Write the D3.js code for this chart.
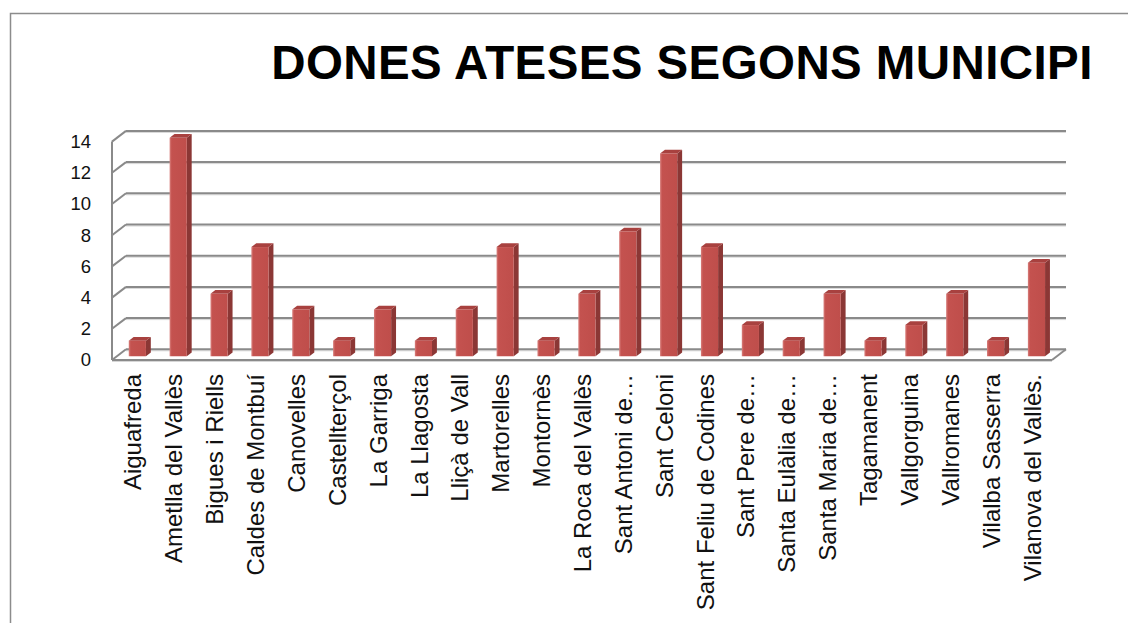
<!DOCTYPE html>
<html>
<head>
<meta charset="utf-8">
<script src="https://cdn.jsdelivr.net/npm/d3@7"></script>
<style>
  body { margin: 0; background: #fff; }
  svg { display: block; }
</style>
</head>
<body>
<div id="chart"></div>
<script>
// data
var municipis = ["Aiguafreda", "Ametlla del Vallès", "Bigues i Riells", "Caldes de Montbuí",
  "Canovelles", "Castellterçol", "La Garriga", "La Llagosta", "Lliçà de Vall", "Martorelles",
  "Montornès", "La Roca del Vallès", "Sant Antoni de…", "Sant Celoni", "Sant Feliu de Codines",
  "Sant Pere de…", "Santa Eulàlia de…", "Santa Maria de…", "Tagamanent", "Vallgorguina",
  "Vallromanes", "Vilalba Sasserra", "Vilanova del Vallès."];
var dones = [1, 14, 4, 7, 3, 1, 3, 1, 3, 7, 1, 4, 8, 13, 7, 2, 1, 4, 1, 2, 4, 1, 6];
var yTicks = [0, 2, 4, 6, 8, 10, 12, 14];
var titol = "DONES ATESES SEGONS MUNICIPI";

var W = 1128, H = 623;
// front plane of the 3d box, and the depth vector to the back wall
var front = {left: 112, right: 1052, bottom: 360, top: 141.6};
var DX = 14, DY = -10.7;
var tFront = 0.35, tBack = 0.7;

var x = d3.scaleBand()
  .domain(municipis)
  .range([front.left, front.right]);

var y = d3.scaleLinear()
  .domain([0, 14])
  .range([front.bottom, front.top]);

var svg = d3.select("#chart").append("svg")
  .attr("width", W)
  .attr("height", H);

var defs = svg.append("defs");
var grad = defs.append("linearGradient").attr("id", "barFront")
  .attr("x1", "0%").attr("x2", "100%").attr("y1", "0%").attr("y2", "0%");
grad.append("stop").attr("offset", "0%").attr("stop-color", "#d9817e");
grad.append("stop").attr("offset", "12%").attr("stop-color", "#c4524f");
grad.append("stop").attr("offset", "100%").attr("stop-color", "#bf4e4b");

// chart border
svg.append("rect")
  .attr("x", 10.5).attr("y", 13.5)
  .attr("width", W + 50).attr("height", H + 50)
  .attr("fill", "none")
  .attr("stroke", "#8c8c8c")
  .attr("stroke-width", 1.5);

// title
svg.append("text")
  .attr("x", 682)
  .attr("y", 78.5)
  .attr("text-anchor", "middle")
  .style("font-family", "'Liberation Sans', Arial, sans-serif")
  .style("font-weight", "bold")
  .style("font-size", "47.5px")
  .style("letter-spacing", "0.4px")
  .attr("fill", "#000")
  .text(titol);

var grid = svg.append("g");
var gridColor = "#8a8a8a";

function line(g, x1, y1, x2, y2, col, w) {
  g.append("line")
    .attr("x1", x1).attr("y1", y1)
    .attr("x2", x2).attr("y2", y2)
    .attr("stroke", col)
    .attr("stroke-width", w);
}

yTicks.forEach(function(v) {
  var yf = y(v), yb = y(v) + DY;
  // soft shadow under each line
  line(grid, front.left + DX, yb + 1.5, front.right + DX, yb + 1.5, "#d6d6d6", 1);
  line(grid, front.left + DX, yb, front.right + DX, yb, gridColor, 2);
  line(grid, front.left, yf, front.left + DX, yb, gridColor, 2);
});
// left wall front edge and floor
line(grid, front.left, y(14), front.left, front.bottom, gridColor, 2);
line(grid, front.left, front.bottom + 1.5, front.right, front.bottom + 1.5, "#d6d6d6", 1);
line(grid, front.left, front.bottom, front.right, front.bottom, gridColor, 2);
line(grid, front.right, front.bottom, front.right + DX, front.bottom + DY, gridColor, 2);

// y tick labels
svg.append("g").selectAll("text")
  .data(yTicks)
  .join("text")
  .attr("x", 91)
  .attr("y", function(d) { return y(d); })
  .attr("dy", "0.35em")
  .attr("text-anchor", "end")
  .style("font-family", "'Liberation Sans', Arial, sans-serif")
  .style("font-size", "18.5px")
  .attr("fill", "#111")
  .text(function(d) { return d; });

// bars
var bw = x.bandwidth() * 0.42;
var sdx = (tBack - tFront) * DX, sdy = (tBack - tFront) * DY;
var bars = svg.append("g");
municipis.forEach(function(m, i) {
  var cx = x(m) + x.bandwidth() / 2 + tFront * DX;
  var x0 = cx - bw / 2, x1 = cx + bw / 2;
  var yb = y(0) + tFront * DY, yt = y(dones[i]) + tFront * DY;
  // side
  bars.append("path")
    .attr("d", "M" + x1 + "," + yb + " L" + (x1 + sdx) + "," + (yb + sdy) +
      " L" + (x1 + sdx) + "," + (yt + sdy) + " L" + x1 + "," + yt + "Z")
    .attr("fill", "#8b3735");
  // top
  bars.append("path")
    .attr("d", "M" + x0 + "," + yt + " L" + x1 + "," + yt +
      " L" + (x1 + sdx) + "," + (yt + sdy) + " L" + (x0 + sdx) + "," + (yt + sdy) + "Z")
    .attr("fill", "#a8413f");
  // front
  bars.append("rect")
    .attr("x", x0).attr("y", yt)
    .attr("width", bw).attr("height", yb - yt)
    .attr("fill", "url(#barFront)");
});

// category labels, rotated
svg.append("g").selectAll("text")
  .data(municipis)
  .join("text")
  .attr("transform", function(d) {
    return "translate(" + (x(d) + x.bandwidth() / 2 + 9) + ",374) rotate(-90)";
  })
  .attr("text-anchor", "end")
  .style("font-family", "'Liberation Sans', Arial, sans-serif")
  .style("font-size", "24px")
  .attr("fill", "#111")
  .text(function(d) { return d; });
</script>
</body>
</html>
